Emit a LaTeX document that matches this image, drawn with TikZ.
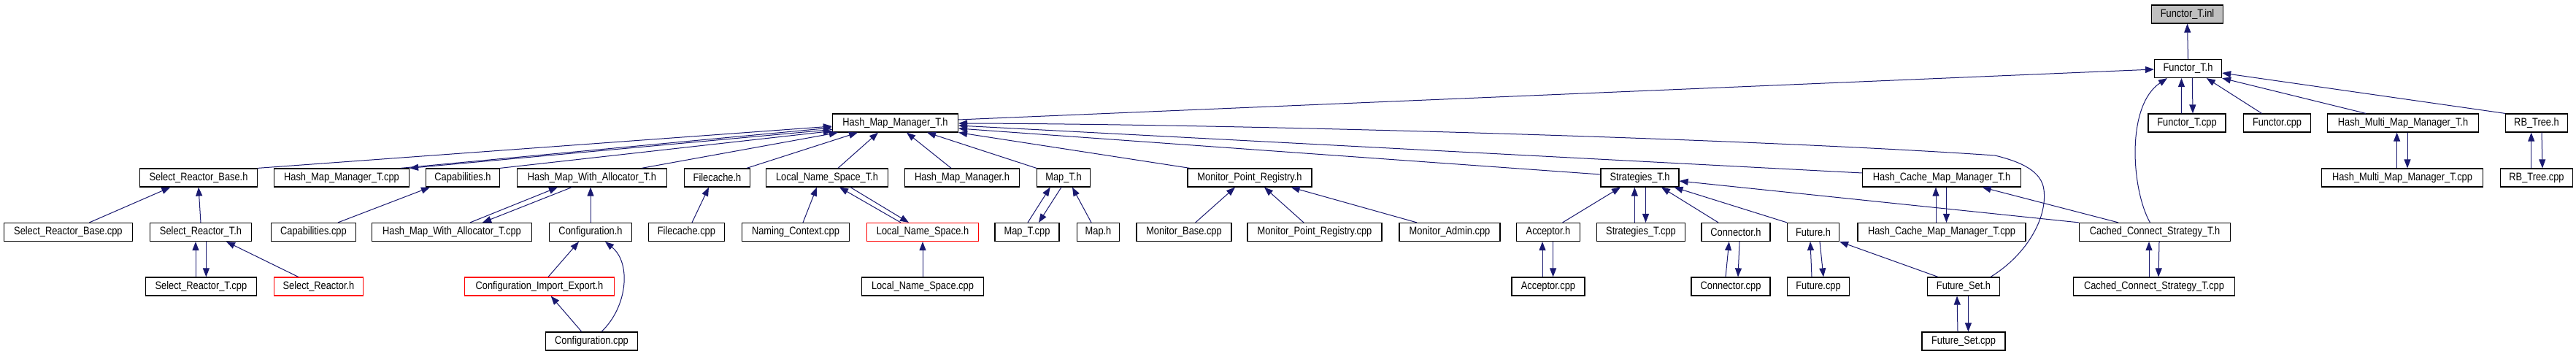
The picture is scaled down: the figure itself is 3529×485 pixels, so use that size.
\documentclass[tikz,border=0pt]{standalone}
\usepackage{fontspec}
\setmainfont{Liberation Sans}[FakeStretch=0.85]
\usetikzlibrary{arrows.meta,calc}
\definecolor{edgeblue}{HTML}{191970}
\definecolor{boxgray}{HTML}{BFBFBF}
\tikzset{
  box/.style={draw=black, line width=0.6pt, fill=white, minimum height=12.5pt, inner sep=0pt, font=\fontsize{7.55}{9}\selectfont},
  bw/.style={minimum width=#1*0.5pt},
  redbox/.style={box, draw=red},
  graybox/.style={box, fill=boxgray},
  edge/.style={draw=edgeblue, line width=0.5pt, -{Triangle[length=6pt,width=4.5pt]}}
}
\begin{document}
\begin{tikzpicture}[x=0.5pt,y=-0.5pt]
\fill[white] (0,0) rectangle (3529,485);
\useasboundingbox (0,0) rectangle (3529,485);
% row 0
\node[graybox,bw=98] (finl) at (2996.5,19.5) {Functor\_T.inl};
% row 1
\node[box,bw=92] (fth) at (2997.5,94) {Functor\_T.h};
% row 2
\node[box,bw=172] (hmmth) at (1226.5,168.5) {Hash\_Map\_Manager\_T.h};
\node[box,bw=106] (ftcpp) at (2996,168.5) {Functor\_T.cpp};
\node[box,bw=92] (fcpp) at (3119.5,168.5) {Functor.cpp};
\node[box,bw=207] (hmmmth) at (3292,168.5) {Hash\_Multi\_Map\_Manager\_T.h};
\node[box,bw=85] (rbth) at (3475,168.5) {RB\_Tree.h};
% row 3
\node[box,bw=161] (srbh) at (272,243.5) {Select\_Reactor\_Base.h};
\node[box,bw=185] (hmmtcpp) at (468,243.5) {Hash\_Map\_Manager\_T.cpp};
\node[box,bw=101] (caph) at (634,243.5) {Capabilities.h};
\node[box,bw=205] (hmwath) at (811,243.5) {Hash\_Map\_With\_Allocator\_T.h};
\node[box,bw=90] (fch) at (982.5,243.5) {Filecache.h};
\node[box,bw=167] (lnsth) at (1133,243.5) {Local\_Name\_Space\_T.h};
\node[box,bw=157] (hmmh) at (1318,243.5) {Hash\_Map\_Manager.h};
\node[box,bw=73] (mapth) at (1457,243.5) {Map\_T.h};
\node[box,bw=170] (mprh) at (1712,243.5) {Monitor\_Point\_Registry.h};
\node[box,bw=107] (strth) at (2246.5,243.5) {Strategies\_T.h};
\node[box,bw=217] (hcmmth) at (2660,243.5) {Hash\_Cache\_Map\_Manager\_T.h};
\node[box,bw=221] (hmmmtcpp) at (3291,243.5) {Hash\_Multi\_Map\_Manager\_T.cpp};
\node[box,bw=99] (rbtcpp) at (3475,243.5) {RB\_Tree.cpp};
% row 4
\node[box,bw=176] (srbcpp) at (93.4,318) {Select\_Reactor\_Base.cpp};
\node[box,bw=139] (srth) at (275,318) {Select\_Reactor\_T.h};
\node[box,bw=116] (capcpp) at (429.4,318) {Capabilities.cpp};
\node[box,bw=219] (hmwatcpp) at (619,318) {Hash\_Map\_With\_Allocator\_T.cpp};
\node[box,bw=113] (confh) at (809,318) {Configuration.h};
\node[box,bw=104] (fccpp) at (940.4,318) {Filecache.cpp};
\node[box,bw=147] (nccpp) at (1090,318) {Naming\_Context.cpp};
\node[redbox,bw=153] (lnsh) at (1264,318) {Local\_Name\_Space.h};
\node[box,bw=88] (maptcpp) at (1407,318) {Map\_T.cpp};
\node[box,bw=58] (maph) at (1504.5,318) {Map.h};
\node[box,bw=130] (mbcpp) at (1622,318) {Monitor\_Base.cpp};
\node[box,bw=184] (mprcpp) at (1801,318) {Monitor\_Point\_Registry.cpp};
\node[box,bw=138] (macpp) at (1986,318) {Monitor\_Admin.cpp};
\node[box,bw=87] (acch) at (2121,318) {Acceptor.h};
\node[box,bw=121] (strtcpp) at (2248,318) {Strategies\_T.cpp};
\node[box,bw=94] (connh) at (2378,318) {Connector.h};
\node[box,bw=71] (futh) at (2484,318) {Future.h};
\node[box,bw=230] (hcmmtcpp) at (2660,318) {Hash\_Cache\_Map\_Manager\_T.cpp};
\node[box,bw=207] (ccsth) at (2952,318) {Cached\_Connect\_Strategy\_T.h};
% row 5
\node[box,bw=152] (srtcpp) at (275.4,392.5) {Select\_Reactor\_T.cpp};
\node[redbox,bw=122] (srh) at (436.5,392.5) {Select\_Reactor.h};
\node[redbox,bw=205] (cieh) at (739,392.5) {Configuration\_Import\_Export.h};
\node[box,bw=167] (lnscpp) at (1264,392.5) {Local\_Name\_Space.cpp};
\node[box,bw=100] (acccpp) at (2121,392.5) {Acceptor.cpp};
\node[box,bw=108] (conncpp) at (2371,392.5) {Connector.cpp};
\node[box,bw=85] (futcpp) at (2491,392.5) {Future.cpp};
\node[box,bw=99] (fsh) at (2690,392.5) {Future\_Set.h};
\node[box,bw=221] (ccstcpp) at (2951,392.5) {Cached\_Connect\_Strategy\_T.cpp};
% row 6
\node[box,bw=126] (confcpp) at (810.5,467.5) {Configuration.cpp};
\node[box,bw=114] (fscpp) at (2690,467.5) {Future\_Set.cpp};

% ---- edges ----
\draw[edge] (fth.north) -- (finl.south);
\draw[edge] ($(hmmth.east)+(0,-4.5)$) -- ($(fth.west)+(0,1)$);
\draw[edge] ($(fsh.north)+(37,0)$) .. controls (2775,350) and (2805,300) .. (2800,260)
   .. controls (2797,235) and (2770,222) .. (2733,213)
   .. controls (2400,190) and (1700,170) .. ($(hmmth.east)+(0,0.5)$);
\draw[edge] ($(hcmmth.west)+(0,-6.5)$) -- ($(hmmth.east)+(0,3.5)$);
\draw[edge] ($(strth.west)+(0,-4.5)$) -- ($(hmmth.east)+(0,7.5)$);
\draw[edge] ($(mprh.north)+(-82,0)$) -- (hmmth.south east);
\draw[edge] (mapth.north west) -- ($(hmmth.south)+(43.5,0)$);
\draw[edge] ($(hmmh.north)+(-15,0)$) -- ($(hmmth.south)+(15.5,0)$);
\draw[edge] ($(lnsth.north)+(15,0)$) -- ($(hmmth.south)+(-23.5,0)$);
\draw[edge] ($(fch.north)+(40.5,0)$) -- ($(hmmth.south)+(-51.5,0)$);
\draw[edge] ($(hmwath.north)+(68,0)$) -- ($(hmmth.south west)+(8,0)$);
\draw[edge] (srbh.north east) -- ($(hmmth.west)+(0,4.5)$);
\draw[edge] ($(hmmtcpp.north)+(81,0)$) -- ($(hmmth.west)+(0,6.5)$);
\draw[edge] ($(hmmth.west)+(0,9)$) -- (hmmtcpp.north east);
\draw[edge] (caph.north east) -- ($(hmmth.west)+(0,11)$);
\draw[edge] (ccsth.north west) -- ($(strth.east)+(0,4.5)$);
\draw[edge] ($(ccsth.north)+(-50,0)$) -- ($(hcmmth.south)+(55.6,0)$);
\draw[edge] ($(ccsth.north)+(-6.6,0)$) .. controls (2920,260) and (2912,145) .. ($(fth.south)+(-28.5,0)$);
\draw[edge] ($(ccstcpp.north)+(-7,0)$) -- ($(ccsth.south)+(-8,0)$);
\draw[edge] ($(ccsth.south)+(6,0)$) -- ($(ccstcpp.north)+(6,0)$);
\draw[edge] ($(fsh.north)+(-35,0)$) -- (futh.south east);
\draw[edge] ($(fscpp.north)+(-8,0)$) -- ($(fsh.south)+(-9,0)$);
\draw[edge] ($(fsh.south)+(6.4,0)$) -- ($(fscpp.north)+(6.4,0)$);
\draw[edge] ($(futcpp.north)+(-9,0)$) -- ($(futh.south)+(-4,0)$);
\draw[edge] ($(futh.south)+(9,0)$) -- ($(futcpp.north)+(7,0)$);
\draw[edge] ($(conncpp.north)+(-7,0)$) -- ($(connh.south)+(-9.3,0)$);
\draw[edge] ($(connh.south)+(5,0)$) -- ($(conncpp.north)+(10,0)$);
\draw[edge] ($(futh.north)+(-36,0)$) -- ($(strth.south)+(47,0)$);
\draw[edge] ($(connh.north)+(-24,0)$) -- ($(strth.south)+(29.5,0)$);
\draw[edge] ($(strtcpp.north)+(-8.7,0)$) -- ($(strth.south)+(-7.2,0)$);
\draw[edge] ($(strth.south)+(8,0)$) -- ($(strtcpp.north)+(6.5,0)$);
\draw[edge] ($(acch.north)+(19.6,0)$) -- ($(strth.south)+(-26.5,0)$);
\draw[edge] ($(acccpp.north)+(-8,0)$) -- ($(acch.south)+(-8,0)$);
\draw[edge] ($(acch.south)+(6.6,0)$) -- ($(acccpp.north)+(6.6,0)$);
\draw[edge] ($(hcmmtcpp.north)+(-8,0)$) -- ($(hcmmth.south)+(-8,0)$);
\draw[edge] ($(hcmmth.south)+(6.5,0)$) -- ($(hcmmtcpp.north)+(6.5,0)$);
\draw[edge] ($(mbcpp.north)+(15.7,0)$) -- ($(mprh.south)+(-20,0)$);
\draw[edge] ($(mprcpp.north)+(-15,0)$) -- ($(mprh.south)+(20,0)$);
\draw[edge] ($(macpp.north)+(-45,0)$) -- ($(mprh.south)+(56.6,0)$);
\draw[edge] ($(maph.north)+(-9.5,0)$) -- ($(mapth.south)+(12,0)$);
\draw[edge] ($(maptcpp.north)+(1,0)$) -- ($(mapth.south)+(-18.3,0)$);
\draw[edge] ($(mapth.south)+(-3,0)$) -- ($(maptcpp.north)+(16,0)$);
\draw[edge] (lnscpp.north) -- (lnsh.south);
\draw[edge] ($(lnsh.north)+(-30,0)$) -- ($(lnsth.south)+(17,0)$);
\draw[edge] ($(lnsth.south)+(32,0)$) -- ($(lnsh.north)+(-19,0)$);
\draw[edge] ($(nccpp.north)+(10,0)$) -- ($(lnsth.south)+(-14,0)$);
\draw[edge] ($(fccpp.north)+(7.6,0)$) -- ($(fch.south)+(-11.5,0)$);
\draw[edge] (confh.north) -- ($(hmwath.south)+(-2,0)$);
\draw[edge] ($(cieh.north)+(12,0)$) -- ($(confh.south)+(-16,0)$);
\draw[edge] ($(confcpp.north)+(13.5,0)$) .. controls (860,420) and (865,360) .. ($(confh.south)+(20,0)$);
\draw[edge] ($(confcpp.north)+(-13.7,0)$) -- ($(cieh.south)+(15.7,0)$);
\draw[edge] ($(hmwatcpp.north)+(25,0)$) -- ($(hmwath.south)+(-47,0)$);
\draw[edge] ($(hmwath.south)+(-27.6,0)$) -- ($(hmwatcpp.north)+(42,0)$);
\draw[edge] ($(capcpp.north)+(33.6,0)$) -- ($(caph.south)+(-45,0)$);
\draw[edge] ($(srh.north)+(-27.8,0)$) -- ($(srth.south)+(35,0)$);
\draw[edge] ($(srtcpp.north)+(-7.4,0)$) -- ($(srth.south)+(-7,0)$);
\draw[edge] ($(srth.south)+(7.4,0)$) -- ($(srtcpp.north)+(7,0)$);
\draw[edge] (srth.north) -- (srbh.south);
\draw[edge] ($(srbcpp.north)+(29,0)$) -- ($(srbh.south)+(-38.6,0)$);
\draw[edge] ($(fcpp.north)+(-21,0)$) -- ($(fth.south)+(25.3,0)$);
\draw[edge] ($(ftcpp.north)+(-7.6,0)$) -- ($(fth.south)+(-9,0)$);
\draw[edge] ($(fth.south)+(5.8,0)$) -- ($(ftcpp.north)+(8,0)$);
\draw[edge] ($(hmmmth.north)+(-51,0)$) -- (fth.south east);
\draw[edge] (rbth.north west) -- ($(fth.east)+(0,6)$);
\draw[edge] ($(hmmmtcpp.north)+(-7.4,0)$) -- ($(hmmmth.south)+(-8.4,0)$);
\draw[edge] ($(hmmmth.south)+(6,0)$) -- ($(hmmmtcpp.north)+(7,0)$);
\draw[edge] ($(rbtcpp.north)+(-7.3,0)$) -- ($(rbth.south)+(-7.3,0)$);
\draw[edge] ($(rbth.south)+(7,0)$) -- ($(rbtcpp.north)+(8,0)$);
\end{tikzpicture}
\end{document}
